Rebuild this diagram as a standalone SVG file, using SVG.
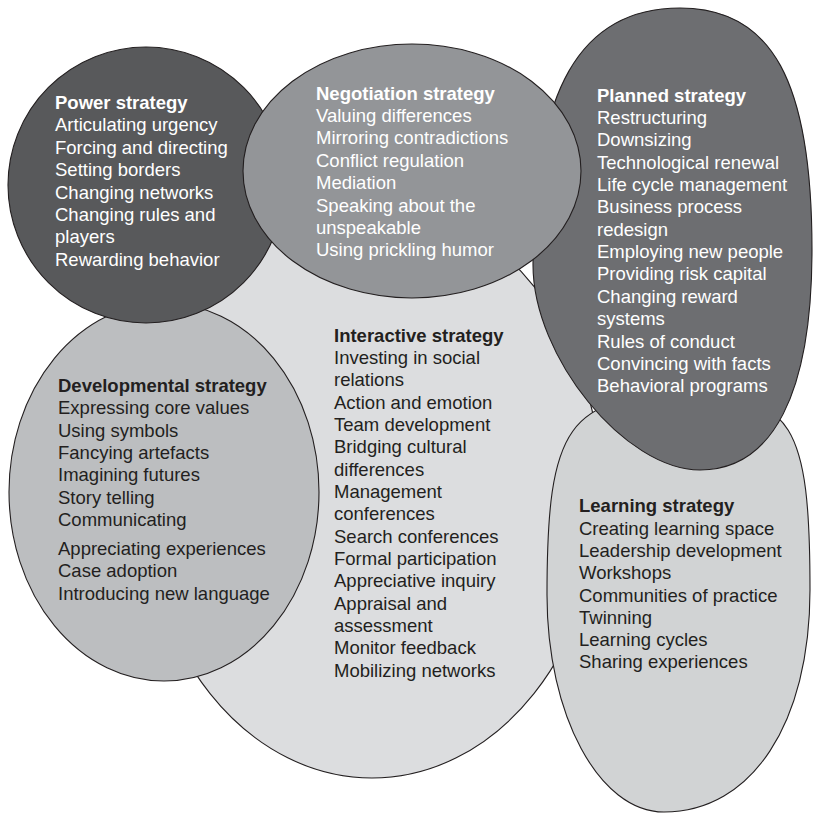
<svg xmlns="http://www.w3.org/2000/svg" width="813" height="815" viewBox="0 0 813 815">
<style>
.sh{stroke:#231f20;stroke-width:1.1}
text{font-family:"Liberation Sans",Arial,Helvetica,sans-serif;font-size:18.5px}
.lt{fill:#ffffff}
.dk{fill:#231f20}
.b{font-weight:bold}
</style>
<rect width="813" height="815" fill="#ffffff"/>
<g id="interactive">
<ellipse class="sh" cx="372" cy="490" rx="229" ry="288" fill="#dcdddf"/>
<text class="dk">
<tspan class="b" x="334" y="341.7">Interactive strategy</tspan>
<tspan x="334" y="364">Investing in social</tspan>
<tspan x="334" y="386.4">relations</tspan>
<tspan x="334" y="408.7">Action and emotion</tspan>
<tspan x="334" y="431">Team development</tspan>
<tspan x="334" y="453.4">Bridging cultural</tspan>
<tspan x="334" y="475.7">differences</tspan>
<tspan x="334" y="498">Management</tspan>
<tspan x="334" y="520.4">conferences</tspan>
<tspan x="334" y="542.7">Search conferences</tspan>
<tspan x="334" y="565">Formal participation</tspan>
<tspan x="334" y="587.4">Appreciative inquiry</tspan>
<tspan x="334" y="609.7">Appraisal and</tspan>
<tspan x="334" y="632">assessment</tspan>
<tspan x="334" y="654.4">Monitor feedback</tspan>
<tspan x="334" y="676.7">Mobilizing networks</tspan>
</text>
</g>
<g id="developmental">
<ellipse class="sh" cx="164" cy="492" rx="155" ry="189" fill="#bcbec0"/>
<text class="dk">
<tspan class="b" x="58" y="391.7">Developmental strategy</tspan>
<tspan x="58" y="414.1">Expressing core values</tspan>
<tspan x="58" y="436.5">Using symbols</tspan>
<tspan x="58" y="458.9">Fancying artefacts</tspan>
<tspan x="58" y="481.3">Imagining futures</tspan>
<tspan x="58" y="503.7">Story telling</tspan>
<tspan x="58" y="526.1">Communicating</tspan>
<tspan x="58" y="555">Appreciating experiences</tspan>
<tspan x="58" y="577.4">Case adoption</tspan>
<tspan x="58" y="599.8">Introducing new language</tspan>
</text>
</g>
<g id="power">
<ellipse class="sh" cx="146" cy="185" rx="138" ry="138" fill="#58595b"/>
<text class="lt">
<tspan class="b" x="55" y="109">Power strategy</tspan>
<tspan x="55" y="131.4">Articulating urgency</tspan>
<tspan x="55" y="153.8">Forcing and directing</tspan>
<tspan x="55" y="176.2">Setting borders</tspan>
<tspan x="55" y="198.6">Changing networks</tspan>
<tspan x="55" y="221">Changing rules and</tspan>
<tspan x="55" y="243.4">players</tspan>
<tspan x="55" y="265.8">Rewarding behavior</tspan>
</text>
</g>
<g id="learning">
<path class="sh" fill="#d1d3d4" d="M664,812 C599,812 547,715 547,595 C547,425 568,395 690,395 C792,395 810,424 810,590 C810,723 752,812 664,812 Z"/>
<text class="dk">
<tspan class="b" x="579" y="512.3">Learning strategy</tspan>
<tspan x="579" y="534.6">Creating learning space</tspan>
<tspan x="579" y="556.9">Leadership development</tspan>
<tspan x="579" y="579.2">Workshops</tspan>
<tspan x="579" y="601.5">Communities of practice</tspan>
<tspan x="579" y="623.8">Twinning</tspan>
<tspan x="579" y="646.1">Learning cycles</tspan>
<tspan x="579" y="668.4">Sharing experiences</tspan>
</text>
</g>
<g id="planned">
<path class="sh" fill="#6d6e71" d="M680,8 C772,8 812,81 812,250 C812,393 773,470 700,470 C625,470 533,357 533,265 C533,90 580,8 680,8 Z"/>
<text class="lt">
<tspan class="b" x="597" y="101.5">Planned strategy</tspan>
<tspan x="597" y="123.9">Restructuring</tspan>
<tspan x="597" y="146.2">Downsizing</tspan>
<tspan x="597" y="168.6">Technological renewal</tspan>
<tspan x="597" y="190.9">Life cycle management</tspan>
<tspan x="597" y="213.3">Business process</tspan>
<tspan x="597" y="235.7">redesign</tspan>
<tspan x="597" y="258">Employing new people</tspan>
<tspan x="597" y="280.4">Providing risk capital</tspan>
<tspan x="597" y="302.7">Changing reward</tspan>
<tspan x="597" y="325.1">systems</tspan>
<tspan x="597" y="347.5">Rules of conduct</tspan>
<tspan x="597" y="369.8">Convincing with facts</tspan>
<tspan x="597" y="392.2">Behavioral programs</tspan>
</text>
</g>
<g id="negotiation">
<ellipse class="sh" cx="412" cy="171" rx="169" ry="127" fill="#939598"/>
<text class="lt">
<tspan class="b" x="316" y="99.5">Negotiation strategy</tspan>
<tspan x="316" y="121.9">Valuing differences</tspan>
<tspan x="316" y="144.3">Mirroring contradictions</tspan>
<tspan x="316" y="166.7">Conflict regulation</tspan>
<tspan x="316" y="189.1">Mediation</tspan>
<tspan x="316" y="211.5">Speaking about the</tspan>
<tspan x="316" y="233.9">unspeakable</tspan>
<tspan x="316" y="256.3">Using prickling humor</tspan>
</text>
</g>
</svg>
